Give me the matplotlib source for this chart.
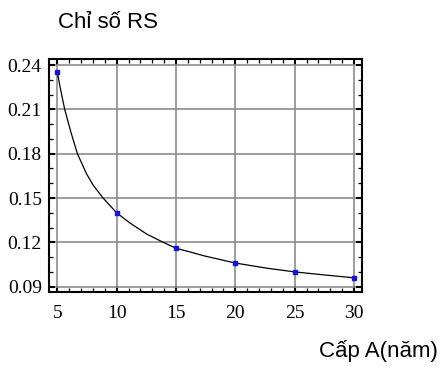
import matplotlib
matplotlib.use("Agg")
import matplotlib.pyplot as plt
from matplotlib.ticker import MultipleLocator, FixedLocator, FormatStrFormatter

# Data points (cấp tuổi A, chỉ số RS)
ages = [5, 10, 15, 20, 25, 30]
rs = [0.235, 0.140, 0.116, 0.106, 0.100, 0.096]

# Smooth curve
curve_x = [5, 5.25, 5.62, 6.13, 6.69, 7.45, 8.01, 8.85, 10, 11.12, 12.53, 13.93, 15,
           16.19, 17.3, 20, 22.67, 25, 27.45, 30]
curve_y = [0.235, 0.2242, 0.210, 0.1949, 0.180, 0.1665, 0.1588, 0.150, 0.140, 0.1331,
           0.1256, 0.120, 0.116, 0.1135, 0.111, 0.106, 0.1025, 0.100, 0.098, 0.096]

xticks = [5, 10, 15, 20, 25, 30]
yticks = [0.09, 0.12, 0.15, 0.18, 0.21, 0.24]

title_text = "Chỉ số RS"
xlabel_text = "Cấp A(năm)"

fig = plt.figure(figsize=(4.43, 3.67), dpi=100)
W, H = 443, 367
left, right, top, bottom = 48.7, 361.7, 59, 292.3
ax = fig.add_axes([left / W, 1 - bottom / H, (right - left) / W, (bottom - top) / H])

ax.plot(curve_x, curve_y, color="black", lw=0.9, zorder=3)
ax.plot(ages, rs, linestyle="none", marker="s", ms=2.4, color="#1010ff", zorder=4)

ax.set_xlim(4.27, 30.65)
ax.set_ylim(0.0862, 0.2441)

ax.xaxis.set_major_locator(FixedLocator(xticks))
ax.yaxis.set_major_locator(FixedLocator(yticks))
ax.xaxis.set_minor_locator(MultipleLocator(1))
ax.yaxis.set_minor_locator(MultipleLocator(0.01))
ax.yaxis.set_major_formatter(FormatStrFormatter("%.2f"))

ax.grid(True, which="major", color="#8c8c8c", lw=1.2, zorder=1)
for s in ax.spines.values():
    s.set_linewidth(1.5)
    s.set_color("black")

ax.tick_params(which="both", direction="in", top=True, right=True, color="black")
ax.tick_params(which="major", length=4.5, width=1.5)
ax.tick_params(which="minor", length=3, width=0.9)
ax.tick_params(axis="x", which="major", pad=9)
ax.tick_params(axis="y", which="major", pad=5)

for lab in ax.get_xticklabels() + ax.get_yticklabels():
    lab.set_fontfamily("Liberation Serif")
    lab.set_fontsize(14)

fig.text(58 / W, 1 - 28 / H, title_text, family="Liberation Sans", fontsize=16,
         ha="left", va="baseline")
fig.text(438 / W, 1 - 357 / H, xlabel_text, family="Liberation Sans", fontsize=16,
         ha="right", va="baseline")

fig.savefig("out.png", dpi=100)
